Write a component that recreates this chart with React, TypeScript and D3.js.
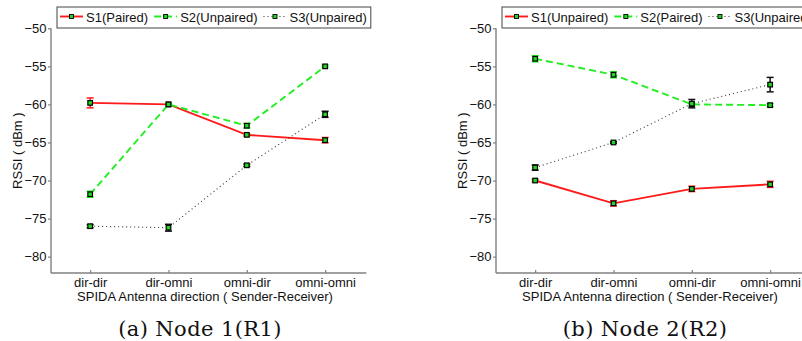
import React, { useEffect, useRef } from 'react';
import * as d3 from 'd3';

// categories on the x axis (antenna direction)
const categories = ['dir-dir', 'dir-omni', 'omni-dir', 'omni-omni'];
const yTicks = [-80, -75, -70, -65, -60, -55, -50];

// Node 1 (R1)
const node1Names = ['S1(Paired)', 'S2(Unpaired)', 'S3(Unpaired)'];
const node1S1 = [-59.8, -60.0, -64.0, -64.7];
const node1S1Err = [0.65, 0.2, 0.15, 0.35];
const node1S2 = [-71.8, -60.0, -62.8, -55.0];
const node1S2Err = [0.4, 0.2, 0.3, 0.15];
const node1S3 = [-76.0, -76.2, -68.0, -61.3];
const node1S3Err = [0.2, 0.45, 0.15, 0.4];

// Node 2 (R2)
const node2Names = ['S1(Unpaired)', 'S2(Paired)', 'S3(Unpaired)'];
const node2S1 = [-70.0, -73.0, -71.1, -70.5];
const node2S1Err = [0.15, 0.35, 0.35, 0.4];
const node2S2 = [-54.0, -56.1, -60.0, -60.1];
const node2S2Err = [0.4, 0.4, 0.2, 0.2];
const node2S3 = [-68.3, -65.0, -59.9, -57.4];
const node2S3Err = [0.35, 0.1, 0.55, 0.95];

const captions = ['(a) Node 1(R1)', '(b) Node 2(R2)'];

const RED = '#ff1a1a';
const GREEN = '#22ee22';
const DOT = '#333333';

const seriesStyle = [
  { color: RED, width: 1.9, dash: null, err: RED },
  { color: GREEN, width: 1.9, dash: '7,4', err: GREEN },
  { color: DOT, width: 1.1, dash: '1,3', err: '#111111' },
];

const App = () => {
  const svgRef = useRef<SVGSVGElement>(null);

  useEffect(() => {
    const svg = d3.select(svgRef.current);
    svg.selectAll('*').remove();

    const top = 28.3;
    const bottom = 273;
    const plotW = 313.3;
    const font = '"Liberation Sans", Arial, sans-serif';

    const panels = [
      { left: 51, names: node1Names, values: [node1S1, node1S2, node1S3], errs: [node1S1Err, node1S2Err, node1S3Err], caption: captions[0] },
      { left: 496, names: node2Names, values: [node2S1, node2S2, node2S3], errs: [node2S1Err, node2S2Err, node2S3Err], caption: captions[1] },
    ];

    const y = d3.scaleLinear().domain([-82.15, -50]).range([bottom, top]);

    panels.forEach((p) => {
      const g = svg.append('g');
      const x = d3.scalePoint<string>().domain(categories).range([p.left, p.left + plotW]).padding(0.5);

      // y axis
      const yAxis = g.append('g')
        .attr('transform', `translate(${p.left},0)`)
        .call(d3.axisLeft(y).tickValues(yTicks).tickSizeInner(3).tickSizeOuter(0).tickPadding(1.5).tickFormat(d3.format('d')));
      yAxis.select('.domain').remove();
      yAxis.selectAll('line').attr('stroke', '#808080').attr('stroke-width', 1.2);
      yAxis.selectAll('text').attr('font-family', font).attr('font-size', 13).attr('fill', '#111');

      // x axis
      const xAxis = g.append('g')
        .attr('transform', `translate(0,${bottom})`)
        .call(d3.axisBottom(x).tickSizeInner(-3).tickSizeOuter(0).tickPadding(5));
      xAxis.select('.domain').remove();
      xAxis.selectAll('line').attr('stroke', '#808080').attr('stroke-width', 1.2);
      xAxis.selectAll('text').attr('font-family', font).attr('font-size', 13).attr('fill', '#111');

      // axis lines
      g.append('line').attr('x1', p.left).attr('x2', p.left).attr('y1', top).attr('y2', bottom)
        .attr('stroke', '#808080').attr('stroke-width', 1.4);
      g.append('line').attr('x1', p.left).attr('x2', p.left + plotW + 2).attr('y1', bottom).attr('y2', bottom)
        .attr('stroke', '#808080').attr('stroke-width', 1.4);

      // labels
      g.append('text')
        .attr('transform', `translate(${p.left - 34},${(top + bottom) / 2}) rotate(-90)`)
        .attr('text-anchor', 'middle').attr('dominant-baseline', 'central')
        .attr('font-family', font).attr('font-size', 13).attr('fill', '#111')
        .text('RSSI ( dBm )');
      g.append('text')
        .attr('x', p.left + 154).attr('y', 301)
        .attr('text-anchor', 'middle')
        .attr('font-family', font).attr('font-size', 13).attr('fill', '#111')
        .text('SPIDA Antenna direction ( Sender-Receiver)');
      g.append('text')
        .attr('x', p.left + 149).attr('y', 336)
        .attr('text-anchor', 'middle')
        .attr('font-family', '"DejaVu Serif", serif').attr('font-size', 21).attr('letter-spacing', 0.4)
        .attr('fill', '#111')
        .text(p.caption);

      // series
      p.values.forEach((vals, si) => {
        const st = seriesStyle[si];
        const pts = vals.map((v, i) => [x(categories[i]) as number, y(v)] as [number, number]);
        const line = d3.line();
        const path = g.append('path').attr('d', line(pts)).attr('fill', 'none')
          .attr('stroke', st.color).attr('stroke-width', st.width);
        if (st.dash) path.attr('stroke-dasharray', st.dash);

        // error bars
        vals.forEach((v, i) => {
          const cx = x(categories[i]) as number;
          const e = p.errs[si][i];
          const y1 = y(v + e);
          const y2 = y(v - e);
          const eg = g.append('g').attr('stroke', st.err).attr('stroke-width', 1.5);
          eg.append('line').attr('x1', cx).attr('x2', cx).attr('y1', y1).attr('y2', y2);
          eg.append('line').attr('x1', cx - 3.5).attr('x2', cx + 3.5).attr('y1', y1).attr('y2', y1);
          eg.append('line').attr('x1', cx - 3.5).attr('x2', cx + 3.5).attr('y1', y2).attr('y2', y2);
        });

        // markers
        g.selectAll(null).data(pts).join('rect')
          .attr('x', (d) => d[0] - 2.3).attr('y', (d) => d[1] - 2.3)
          .attr('width', 4.6).attr('height', 4.6)
          .attr('fill', '#1fd81f').attr('stroke', '#000').attr('stroke-width', 1.2);
      });

      // legend
      const lg = g.append('g');
      const box = lg.append('rect')
        .attr('x', p.left + 6).attr('y', 7).attr('height', 21)
        .attr('fill', '#fff').attr('stroke', '#444').attr('stroke-width', 1);
      let cursor = p.left + 9;
      p.names.forEach((name, si) => {
        const st = seriesStyle[si];
        const ly = 16.5;
        const sl = lg.append('line').attr('x1', cursor).attr('x2', cursor + 23).attr('y1', ly).attr('y2', ly)
          .attr('stroke', st.color).attr('stroke-width', st.width);
        if (st.dash) sl.attr('stroke-dasharray', st.dash);
        lg.append('rect').attr('x', cursor + 11.5 - 2).attr('y', ly - 2).attr('width', 4).attr('height', 4)
          .attr('fill', '#1fd81f').attr('stroke', '#000').attr('stroke-width', 0.9);
        const t = lg.append('text').attr('x', cursor + 26).attr('y', 21.5)
          .attr('font-family', font).attr('font-size', 13).attr('fill', '#111')
          .text(name);
        const w = (t.node() as SVGTextElement).getComputedTextLength();
        cursor = cursor + 26 + w + (si < p.names.length - 1 ? 6 : 4);
      });
      box.attr('width', cursor - (p.left + 6));
    });
  }, []);

  return (
    <div>
      <svg ref={svgRef} width={802} height={341} style={{ position: 'absolute', left: 0, top: 0, background: '#fff' }} />
    </div>
  );
};

export default App;
